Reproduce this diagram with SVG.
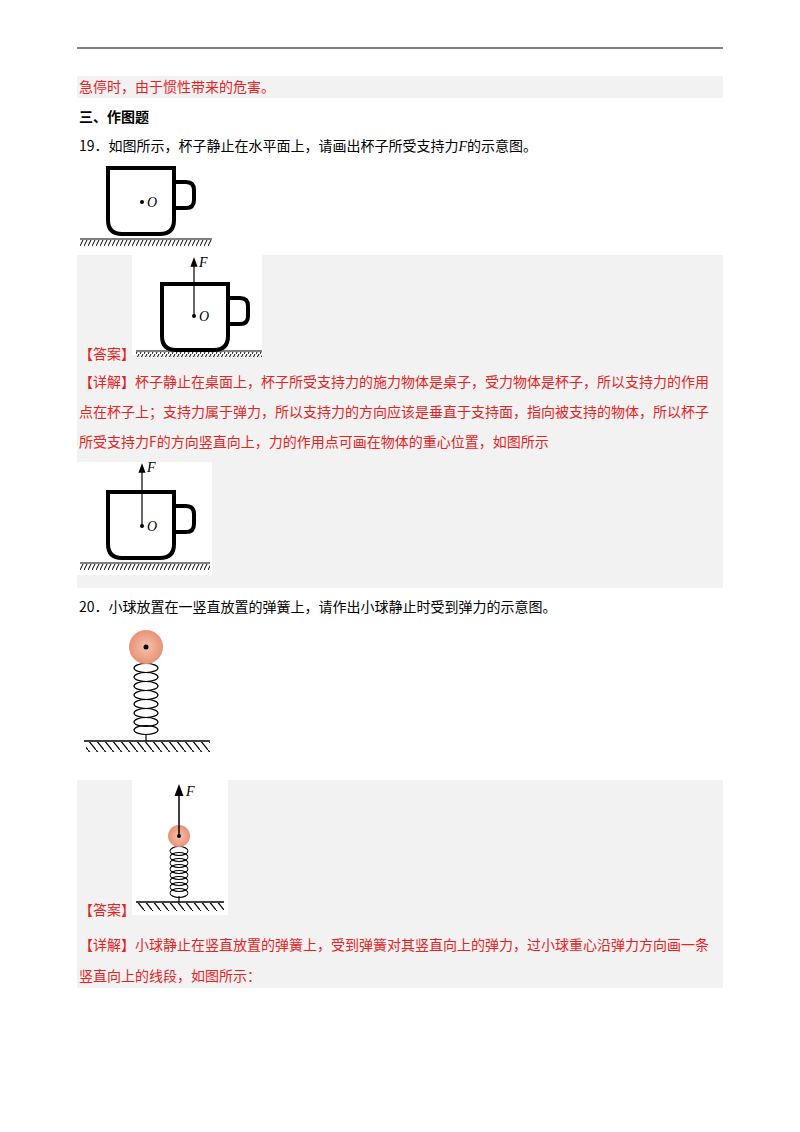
<svg xmlns="http://www.w3.org/2000/svg" width="800" height="1132" viewBox="0 0 800 1132">
<defs>
<style>
text{font-family:"Noto Sans CJK SC","Liberation Serif",serif;font-size:14px;fill:#000}
.r{fill:#e8231f}
.it{font-family:"Liberation Serif",serif;font-style:italic;font-size:14px}
.cup{fill:none;stroke:#000;stroke-width:4}
.thin{stroke:#000;stroke-width:1.2;fill:none}
.gray{fill:#f2f2f2}
</style>
<pattern id="h1" width="4" height="6" patternUnits="userSpaceOnUse"><line x1="3" y1="0" x2="0" y2="6" stroke="#000" stroke-width="1"/></pattern>
<pattern id="h2" width="8" height="10" patternUnits="userSpaceOnUse"><line x1="0" y1="0" x2="8" y2="10" stroke="#000" stroke-width="1.2"/></pattern>
<radialGradient id="ball"><stop offset="0" stop-color="#f6c2ae"/><stop offset="1" stop-color="#e89277"/></radialGradient>
<marker id="ar" markerWidth="8" markerHeight="8" refX="4" refY="4" orient="auto"><path d="M0,1 L8,4 L0,7 Z" fill="#000"/></marker>
<g id="cupShape"><path class="cup" d="M2,2 H68 V54 Q68,68 54,68 H16 Q2,68 2,54 Z"/><path class="cup" d="M68,16 H80 Q88,16 88,24 V34 Q88,42 80,42 H68"/></g>
<g id="coil"><ellipse cx="0" cy="0" rx="12" ry="4.5" fill="none" stroke="#000" stroke-width="1.2"/></g>
</defs>
<rect width="800" height="1132" fill="#fff"/>
<line x1="77" y1="48" x2="723" y2="48" stroke="#000" stroke-width="1.2"/>
<rect class="gray" x="77" y="76" width="646" height="22"/>
<text class="r" x="79" y="92">急停时，由于惯性带来的危害。</text>
<text x="79" y="122" font-weight="bold">三、作图题</text>
<text x="79" y="151">19．如图所示，杯子静止在水平面上，请画出杯子所受支持力<tspan class="it">F</tspan>的示意图。</text>
<g id="fig1">
<use href="#cupShape" x="106" y="166"/>
<circle cx="142" cy="202" r="2" fill="#000"/><text class="it" x="147" y="207">O</text>
<line x1="80" y1="239" x2="212" y2="239" stroke="#000" stroke-width="1.2"/>
<rect x="80" y="240" width="132" height="6" fill="url(#h1)"/>
</g>
<rect class="gray" x="77" y="255" width="646" height="333"/>
<rect x="132" y="255" width="130" height="100" fill="#fff"/>
<g id="fig2">
<use href="#cupShape" x="160" y="282"/>
<line x1="194" y1="316" x2="194" y2="262" stroke="#000" stroke-width="1.2" marker-end="url(#ar)"/>
<circle cx="194" cy="316" r="2" fill="#000"/><text class="it" x="199" y="321">O</text>
<text class="it" x="199" y="267">F</text>
<line x1="136" y1="351" x2="262" y2="351" stroke="#000" stroke-width="1.2"/>
<rect x="136" y="352" width="126" height="5" fill="url(#h1)"/>
</g>
<text class="r" x="79" y="359">【答案】</text>
<text class="r" x="79" y="387">【详解】杯子静止在桌面上，杯子所受支持力的施力物体是桌子，受力物体是杯子，所以支持力的作用</text>
<text class="r" x="79" y="417">点在杯子上；支持力属于弹力，所以支持力的方向应该是垂直于支持面，指向被支持的物体，所以杯子</text>
<text class="r" x="79" y="447">所受支持力F的方向竖直向上，力的作用点可画在物体的重心位置，如图所示</text>
<rect x="77" y="462" width="135" height="113" fill="#fff"/>
<g id="fig3">
<use href="#cupShape" x="106" y="490"/>
<line x1="142" y1="526" x2="142" y2="468" stroke="#000" stroke-width="1.2" marker-end="url(#ar)"/>
<circle cx="142" cy="526" r="2" fill="#000"/><text class="it" x="147" y="531">O</text>
<text class="it" x="147" y="472">F</text>
<line x1="80" y1="563" x2="210" y2="563" stroke="#000" stroke-width="1.2"/>
<rect x="80" y="564" width="130" height="6" fill="url(#h1)"/>
</g>
<text x="79" y="612">20．小球放置在一竖直放置的弹簧上，请作出小球静止时受到弹力的示意图。</text>
<g id="fig4">
<g transform="translate(146,0)">
<use href="#coil" y="668"/><use href="#coil" y="677"/><use href="#coil" y="686"/><use href="#coil" y="695"/><use href="#coil" y="704"/><use href="#coil" y="713"/><use href="#coil" y="722"/><use href="#coil" y="730"/>
</g>
<path class="thin" d="M146,734 V741"/>
<circle cx="146" cy="647" r="17" fill="url(#ball)"/>
<circle cx="146" cy="647" r="2.5" fill="#000"/>
<line x1="84" y1="741" x2="210" y2="741" stroke="#000" stroke-width="1.5"/>
<rect x="86" y="742" width="124" height="10" fill="url(#h2)"/>
</g>
<rect class="gray" x="77" y="780" width="646" height="208"/>
<rect x="132" y="780" width="96" height="135" fill="#fff"/>
<g id="fig5">
<g transform="translate(179,0) scale(0.75,1)">
<use href="#coil" y="851"/><use href="#coil" y="857"/><use href="#coil" y="863"/><use href="#coil" y="869"/><use href="#coil" y="875"/><use href="#coil" y="881"/><use href="#coil" y="887"/><use href="#coil" y="893"/>
</g>
<path class="thin" d="M179,896 V902"/>
<circle cx="179" cy="836" r="11" fill="url(#ball)"/>
<line x1="179" y1="836" x2="179" y2="790" stroke="#000" stroke-width="1.5" marker-end="url(#ar)"/>
<circle cx="179" cy="836" r="2" fill="#000"/>
<text class="it" x="186" y="796" font-size="15">F</text>
<line x1="136" y1="902" x2="224" y2="902" stroke="#000" stroke-width="1.3"/>
<rect x="138" y="903" width="86" height="8" fill="url(#h2)"/>
</g>
<text class="r" x="79" y="915">【答案】</text>
<text class="r" x="79" y="950">【详解】小球静止在竖直放置的弹簧上，受到弹簧对其竖直向上的弹力，过小球重心沿弹力方向画一条</text>
<text class="r" x="79" y="981">竖直向上的线段，如图所示：</text>
</svg>
